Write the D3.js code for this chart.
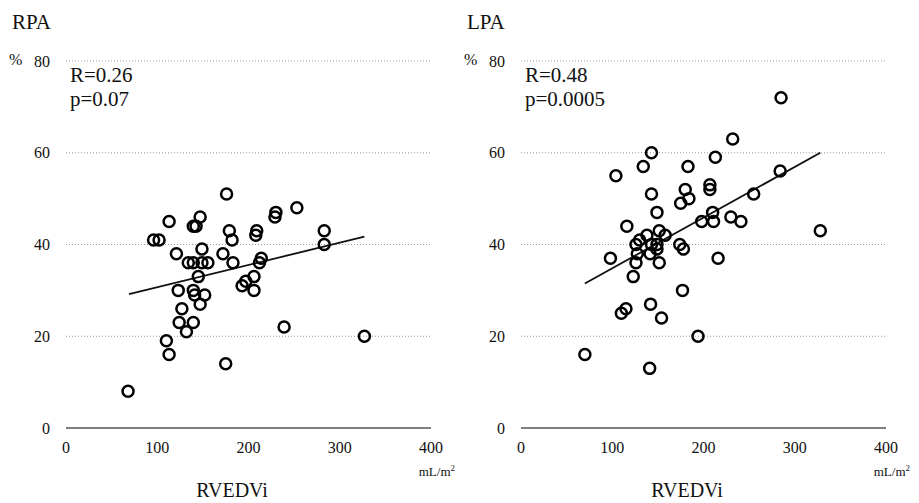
<!DOCTYPE html>
<html>
<head>
<meta charset="utf-8">
<script src="https://cdn.jsdelivr.net/npm/d3@7"></script>
<style>
  body { margin: 0; background: #fff; }
</style>
</head>
<body>
<svg id="canvas"></svg>
<script>
// Y ticks (%) and x ticks (mL/m2)
const yTicks = [0, 20, 40, 60, 80];
const xTicks = [0, 100, 200, 300, 400];

// RPA panel: [RVEDVi, %]
const rpaPoints = [
  [68, 8], [96, 41], [102, 41], [110, 19], [113, 16], [113, 45], [121, 38], [123, 30],
  [124, 23], [127, 26], [132, 21], [134, 36], [139.5, 44], [139.5, 23], [139.5, 36], [139.5, 30],
  [141, 29], [142.5, 44], [145, 33], [147, 27], [147, 46], [149, 39], [149, 36], [152, 29],
  [155.5, 36], [172, 38], [175, 14], [176, 51], [179, 43], [182, 41], [183, 36], [193, 31],
  [197, 32], [206, 30], [206, 33], [208, 42], [209, 43], [212, 36], [214, 37], [229, 46],
  [230, 47], [239, 22], [253, 48], [283, 43], [283, 40], [327, 20]
];
// RPA regression line endpoints
const rpaFit = [[69, 29.2], [327, 41.7]];

// LPA panel: [RVEDVi, %]
const lpaPoints = [
  [70, 16], [98, 37], [104, 55], [110, 25], [115, 26], [116, 44], [123, 33], [126, 40],
  [126, 36], [127.5, 38], [130, 41], [134, 57], [138, 42], [141, 13], [142, 27], [143, 60],
  [141.5, 38], [143, 40], [143, 51], [149, 40], [149, 39], [149, 47], [151.5, 43], [151.5, 36],
  [154, 24], [158, 42], [174, 40], [175, 49], [177, 30], [178, 39], [180, 52], [183, 57],
  [184, 50], [194, 20], [198, 45], [207, 52], [207, 53], [210, 47], [211, 45], [213, 59],
  [216, 37], [230, 46], [232, 63], [241, 45], [255, 51], [284, 56], [285, 72], [328, 43]
];
// LPA regression line endpoints
const lpaFit = [[70, 31.5], [328, 60]];

// Panel titles and stats
const panelTitles = ["RPA", "LPA"];
const panelStats = [["R=0.26", "p=0.07"], ["R=0.48", "p=0.0005"]];

const svgWidth = 919;
const svgHeight = 503;
const serif = "'Liberation Serif', 'DejaVu Serif', serif";

const svg = d3.select("#canvas")
              .attr("width", svgWidth)
              .attr("height", svgHeight);

// Draw one scatter panel, left offset = x pixel of the origin
const drawPanel = (points, fit, title, stats, left) => {
  const xScale = d3.scaleLinear().domain([0, 400]).range([left, left + 365]);
  const yScale = d3.scaleLinear().domain([0, 80]).range([428, 61]);
  const g = svg.append("g")
               .attr("font-family", serif)
               .attr("fill", "#111");

  // Dotted gridlines (not at 0)
  g.selectAll(".grid")
   .data(yTicks.filter((d) => d > 0))
   .enter()
   .append("line")
   .attr("x1", xScale(0))
   .attr("x2", xScale(400))
   .attr("y1", (d) => yScale(d))
   .attr("y2", (d) => yScale(d))
   .attr("stroke", "#999")
   .attr("stroke-width", 1)
   .attr("stroke-dasharray", "1,2");

  // Solid baseline at 0
  g.append("line")
   .attr("x1", xScale(0))
   .attr("x2", xScale(400))
   .attr("y1", yScale(0))
   .attr("y2", yScale(0))
   .attr("stroke", "#555")
   .attr("stroke-width", 1.5);

  // Y tick labels
  g.selectAll(".ylab")
   .data(yTicks)
   .enter()
   .append("text")
   .attr("x", left - 16)
   .attr("y", (d) => yScale(d))
   .attr("text-anchor", "end")
   .attr("dominant-baseline", "central")
   .attr("font-family", serif)
   .style("font-size", "16px")
   .text((d) => d);

  // X tick labels
  g.selectAll(".xlab")
   .data(xTicks)
   .enter()
   .append("text")
   .attr("x", (d) => xScale(d))
   .attr("y", 453)
   .attr("text-anchor", "middle")
   .attr("font-family", serif)
   .style("font-size", "16px")
   .text((d) => d);

  // "%" unit next to the 80 label
  g.append("text")
   .attr("x", left - 57)
   .attr("y", yScale(80) + 4)
   .attr("font-family", serif)
   .style("font-size", "16px")
   .text("%");

  // Panel title
  g.append("text")
   .attr("x", left - 54)
   .attr("y", 29)
   .attr("font-family", serif)
   .style("font-size", "21px")
   .text(title);

  // R and p values
  g.selectAll(".stat")
   .data(stats)
   .enter()
   .append("text")
   .attr("x", left + 4)
   .attr("y", (d, i) => 82 + i * 24)
   .attr("font-family", serif)
   .style("font-size", "21px")
   .text((d) => d);

  // Unit label and axis title
  const unit = g.append("text")
                .attr("x", xScale(400) + 24)
                .attr("y", 476)
                .attr("text-anchor", "end")
                .attr("font-family", serif)
                .style("font-size", "13px");
  unit.append("tspan").text("mL/m");
  unit.append("tspan").attr("dy", -5).style("font-size", "9px").text("2");

  g.append("text")
   .attr("x", xScale(182))
   .attr("y", 497)
   .attr("text-anchor", "middle")
   .attr("font-family", serif)
   .style("font-size", "20px")
   .text("RVEDVi");

  // Regression line
  g.append("line")
   .attr("x1", xScale(fit[0][0]))
   .attr("y1", yScale(fit[0][1]))
   .attr("x2", xScale(fit[1][0]))
   .attr("y2", yScale(fit[1][1]))
   .attr("stroke", "#111")
   .attr("stroke-width", 1.8);

  // Open circle markers
  g.selectAll(".dot")
   .data(points)
   .enter()
   .append("circle")
   .attr("cx", (d) => xScale(d[0]))
   .attr("cy", (d) => yScale(d[1]))
   .attr("r", 5.5)
   .attr("fill", "none")
   .attr("stroke", "#000")
   .attr("stroke-width", 2.5);
};

drawPanel(rpaPoints, rpaFit, panelTitles[0], panelStats[0], 66);
drawPanel(lpaPoints, lpaFit, panelTitles[1], panelStats[1], 521);
</script>
</body>
</html>
